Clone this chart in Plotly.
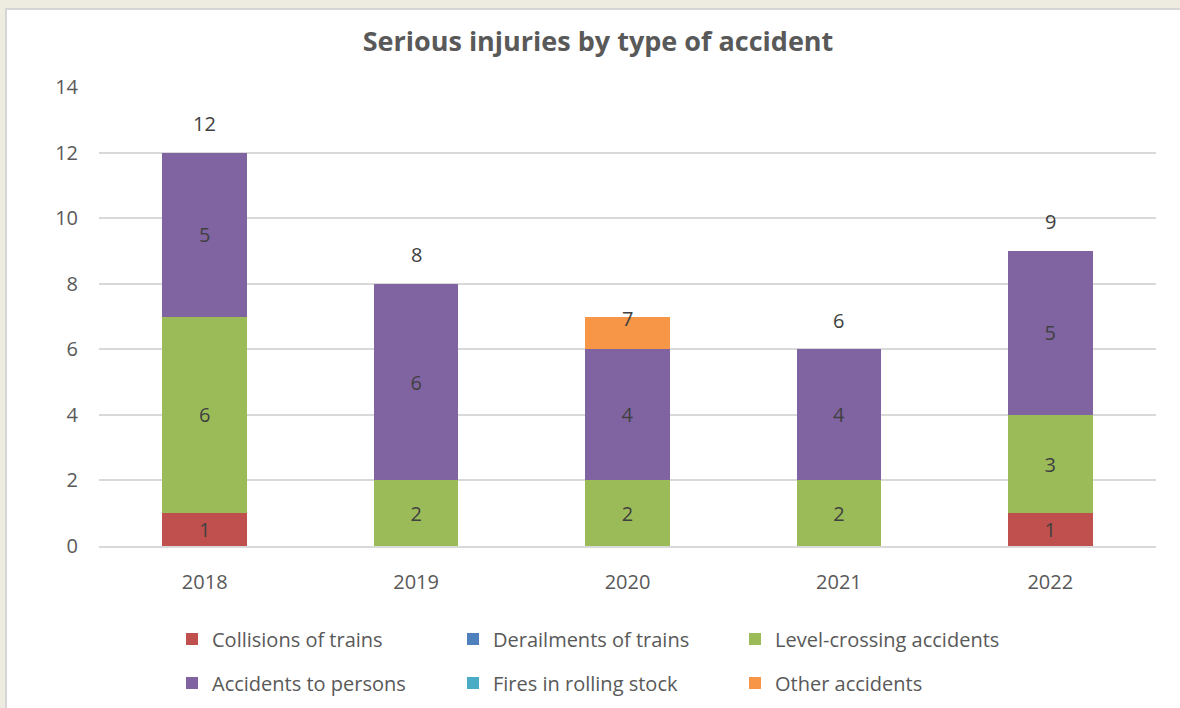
import plotly.graph_objects as go

YEARS = ["2018", "2019", "2020", "2021", "2022"]
COLLISIONS = [1, 0, 0, 0, 1]
DERAILMENTS = [0, 0, 0, 0, 0]
LEVEL_CROSSING = [6, 2, 2, 2, 3]
PERSONS = [5, 6, 4, 4, 5]
FIRES = [0, 0, 0, 0, 0]
OTHER = [0, 0, 1, 0, 0]
Y_TICKS = [0, 2, 4, 6, 8, 10, 12, 14]

SERIES = [
    ("Collisions of trains", COLLISIONS, "#C0504D", True),
    ("Derailments of trains", DERAILMENTS, "#4F81BD", True),
    ("Level-crossing accidents", LEVEL_CROSSING, "#9BBB59", True),
    ("Accidents to persons", PERSONS, "#8064A2", True),
    ("Fires in rolling stock", FIRES, "#4BACC6", True),
    ("Other accidents", OTHER, "#F79646", False),
]

W, H = 1180, 708
FONT = "Open Sans"
GREY = "#595959"
LABEL = "#404040"
NUM_SIZE = 20

# legend layout (pixels in the page): text start x, row center y
LEG_X = [212, 493, 775]
LEG_Y = [639, 683]

fig = go.Figure()
for i, (name, vals, color, show_text) in enumerate(SERIES):
    texts = [str(v) if (v and show_text) else "" for v in vals]
    fig.add_trace(go.Bar(
        x=YEARS, y=vals, name=name,
        marker=dict(color=color, line=dict(width=0)),
        text=texts, textposition="inside", insidetextanchor="middle",
        textfont=dict(family=FONT, size=NUM_SIZE, color=LABEL),
        constraintext="none", textangle=0,
        legend="legend" if i == 0 else f"legend{i + 1}",
        hoverinfo="x+y+name",
    ))

totals = [sum(s[1][k] for s in SERIES) for k in range(len(YEARS))]
SHIFT = {"2020": -2}
for k, (yr, t) in enumerate(zip(YEARS, totals)):
    fig.add_annotation(x=k, y=t, text=str(t), showarrow=False,
                       yanchor="middle", yshift=SHIFT.get(yr, 29),
                       font=dict(family=FONT, size=NUM_SIZE, color=LABEL))

L, R, T, B = 99, 24, 87, 162
pw, ph = W - L - R, H - T - B


def px2paper_x(x):
    return (x - L) / pw


def px2paper_y(y):
    return (H - B - y) / ph


# white chart panel with border on the beige page
fig.add_shape(type="rect", xref="paper", yref="paper",
              x0=px2paper_x(6), x1=px2paper_x(1200),
              y0=px2paper_y(730), y1=px2paper_y(9),
              fillcolor="white", line=dict(color="#D6D6D6", width=2),
              layer="below")

legends = {}
for i in range(6):
    row, col = divmod(i, 3)
    key = "legend" if i == 0 else f"legend{i + 1}"
    legends[key] = dict(
        xref="container", yref="container",
        x=(LEG_X[col] - 40) / W, y=1 - LEG_Y[row] / H,
        xanchor="left", yanchor="middle",
        bgcolor="rgba(0,0,0,0)", borderwidth=0,
        font=dict(family=FONT, size=20, color=GREY),
        itemclick=False, itemdoubleclick=False,
    )

fig.update_layout(
    width=W, height=H,
    barmode="stack", bargap=0.6,
    paper_bgcolor="#EEEBE0", plot_bgcolor="white",
    margin=dict(l=L, r=R, t=T, b=B, autoexpand=False),
    title=dict(text="<b>Serious injuries by type of accident</b>",
               x=598 / W, xanchor="center", y=1 - 42 / H, yanchor="middle",
               font=dict(family=FONT, size=27, color=GREY)),
    font=dict(family=FONT, color=GREY),
    showlegend=True,
    xaxis=dict(type="category", range=[-0.5, len(YEARS) - 0.5],
               showgrid=False, showline=True, linecolor="#D9D9D9",
               linewidth=1.5, ticks="", tickfont=dict(family=FONT, size=NUM_SIZE, color=GREY),
               ticklabelstandoff=17, fixedrange=True),
    yaxis=dict(range=[0, 14], tickvals=Y_TICKS, showgrid=True, gridcolor="#D9D9D9",
               gridwidth=1.5, zeroline=False, showline=False, ticks="",
               tickfont=dict(family=FONT, size=NUM_SIZE, color=GREY),
               ticklabelstandoff=20, fixedrange=True),
    **legends,
)

fig.write_html("out.html", config={"displayModeBar": False},
               post_script="document.body.style.margin='0';")
